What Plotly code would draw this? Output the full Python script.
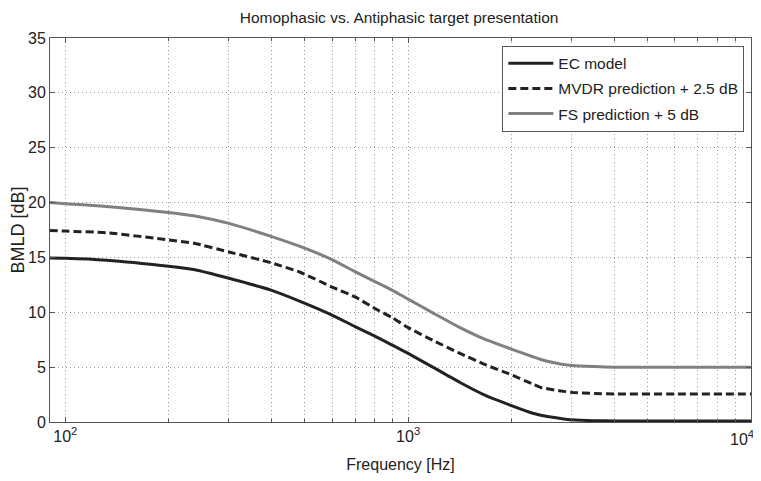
import math
import plotly.graph_objects as go

freq = [90, 100, 132, 200, 237, 300, 400, 484, 600, 700, 800, 900, 1000,
        1180, 1417, 1686, 2000, 2312, 2437, 2758, 3000, 3500, 4000, 6000, 10000]
ec = [14.95, 14.93, 14.75, 14.2, 13.9, 13.1, 12.0, 11.0, 9.75, 8.7, 7.83, 7.0, 6.25,
      5.0, 3.6, 2.4, 1.5, 0.8, 0.62, 0.35, 0.2, 0.12, 0.1, 0.1, 0.1]
mvdr = [17.45, 17.4, 17.25, 16.6, 16.3, 15.5, 14.5, 13.65, 12.3, 11.4, 10.35, 9.5, 8.6,
        7.45, 6.25, 5.2, 4.3, 3.45, 3.15, 2.85, 2.7, 2.6, 2.55, 2.55, 2.55]
fs = [20.0, 19.9, 19.65, 19.1, 18.8, 18.1, 16.9, 16.0, 14.8, 13.7, 12.8, 12.0, 11.2,
      9.95, 8.6, 7.5, 6.65, 5.95, 5.7, 5.3, 5.15, 5.05, 5.0, 5.0, 5.0]

xtick_vals = [100, 1000, 10000]
xtick_text = ["10<sup>2</sup>", "10<sup>3</sup>", "10<sup>4</sup>"]
names = ["EC model", "MVDR prediction + 2.5 dB", "FS prediction + 5 dB"]
title = "Homophasic vs. Antiphasic target presentation"
xlabel = "Frequency [Hz]"
ylabel = "BMLD [dB]"

fig = go.Figure()
fig.add_trace(go.Scatter(x=freq, y=ec, name=names[0], mode="lines", legendgroup="a",
                         line=dict(color="#222222", width=3, shape="spline", smoothing=0.5)))
fig.add_trace(go.Scatter(x=freq, y=mvdr, name=names[1], mode="lines", legendgroup="b",
                         line=dict(color="#222222", width=3, dash="8px,4px", shape="spline", smoothing=0.5)))
fig.add_trace(go.Scatter(x=freq, y=fs, name=names[2], mode="lines", legendgroup="c",
                         line=dict(color="#808080", width=3, shape="spline", smoothing=0.5)))

font = "Liberation Sans, Arial, sans-serif"
fig.update_layout(
    width=753, height=473,
    margin=dict(l=42, r=10, t=30, b=59),
    paper_bgcolor="white", plot_bgcolor="white",
    font=dict(family=font, color="#222222", size=15),
    title=dict(text=title, xref="paper", x=0.498, xanchor="center",
               yref="container", y=1 - 10 / 473, yanchor="middle",
               font=dict(size=15.5, color="#222222")),
    showlegend=True,
    legend=dict(x=0.9905, xanchor="right", y=0.98, yanchor="top",
                bgcolor="white", bordercolor="#555555", borderwidth=1,
                font=dict(size=15.5, color="#222222"), itemwidth=45,
                tracegroupgap=2, traceorder="grouped"),
)
# last decade label drawn right-aligned so it stays inside the page
fig.add_annotation(x=math.log10(xtick_vals[-1]), xref="x", xanchor="right", xshift=5,
                   y=0, yref="paper", yanchor="top", yshift=-4,
                   text=xtick_text[-1], showarrow=False,
                   font=dict(size=16, color="#222222", family=font))
fig.update_xaxes(
    type="log", range=[1.9555, 4.0],
    tickmode="array", tickvals=xtick_vals[:-1], ticktext=xtick_text[:-1],
    showline=True, linecolor="#555555", linewidth=1, mirror="ticks",
    ticks="inside", ticklen=5, tickcolor="#555555",
    showgrid=True, gridcolor="#999999", griddash="1px,3px", gridwidth=1,
    tickfont=dict(size=16), zeroline=False, automargin=False,
    minor=dict(tickmode="array",
               tickvals=[m * 10 ** k for k in (1, 2, 3) for m in range(2, 10)] + [10000],
               showgrid=True, gridcolor="#999999", griddash="1px,3px",
               ticks="inside", ticklen=3, tickcolor="#555555"),
    title=dict(text=xlabel, font=dict(size=16), standoff=14),
)
fig.update_yaxes(
    range=[0, 35], dtick=5,
    showline=True, linecolor="#555555", linewidth=1, mirror="ticks",
    ticks="inside", ticklen=5, tickcolor="#555555",
    showgrid=True, gridcolor="#999999", griddash="1px,3px", gridwidth=1,
    tickfont=dict(size=16), zeroline=False, automargin=False,
    title=dict(text=ylabel, font=dict(size=18), standoff=4),
)

fig.write_html("out.html")
